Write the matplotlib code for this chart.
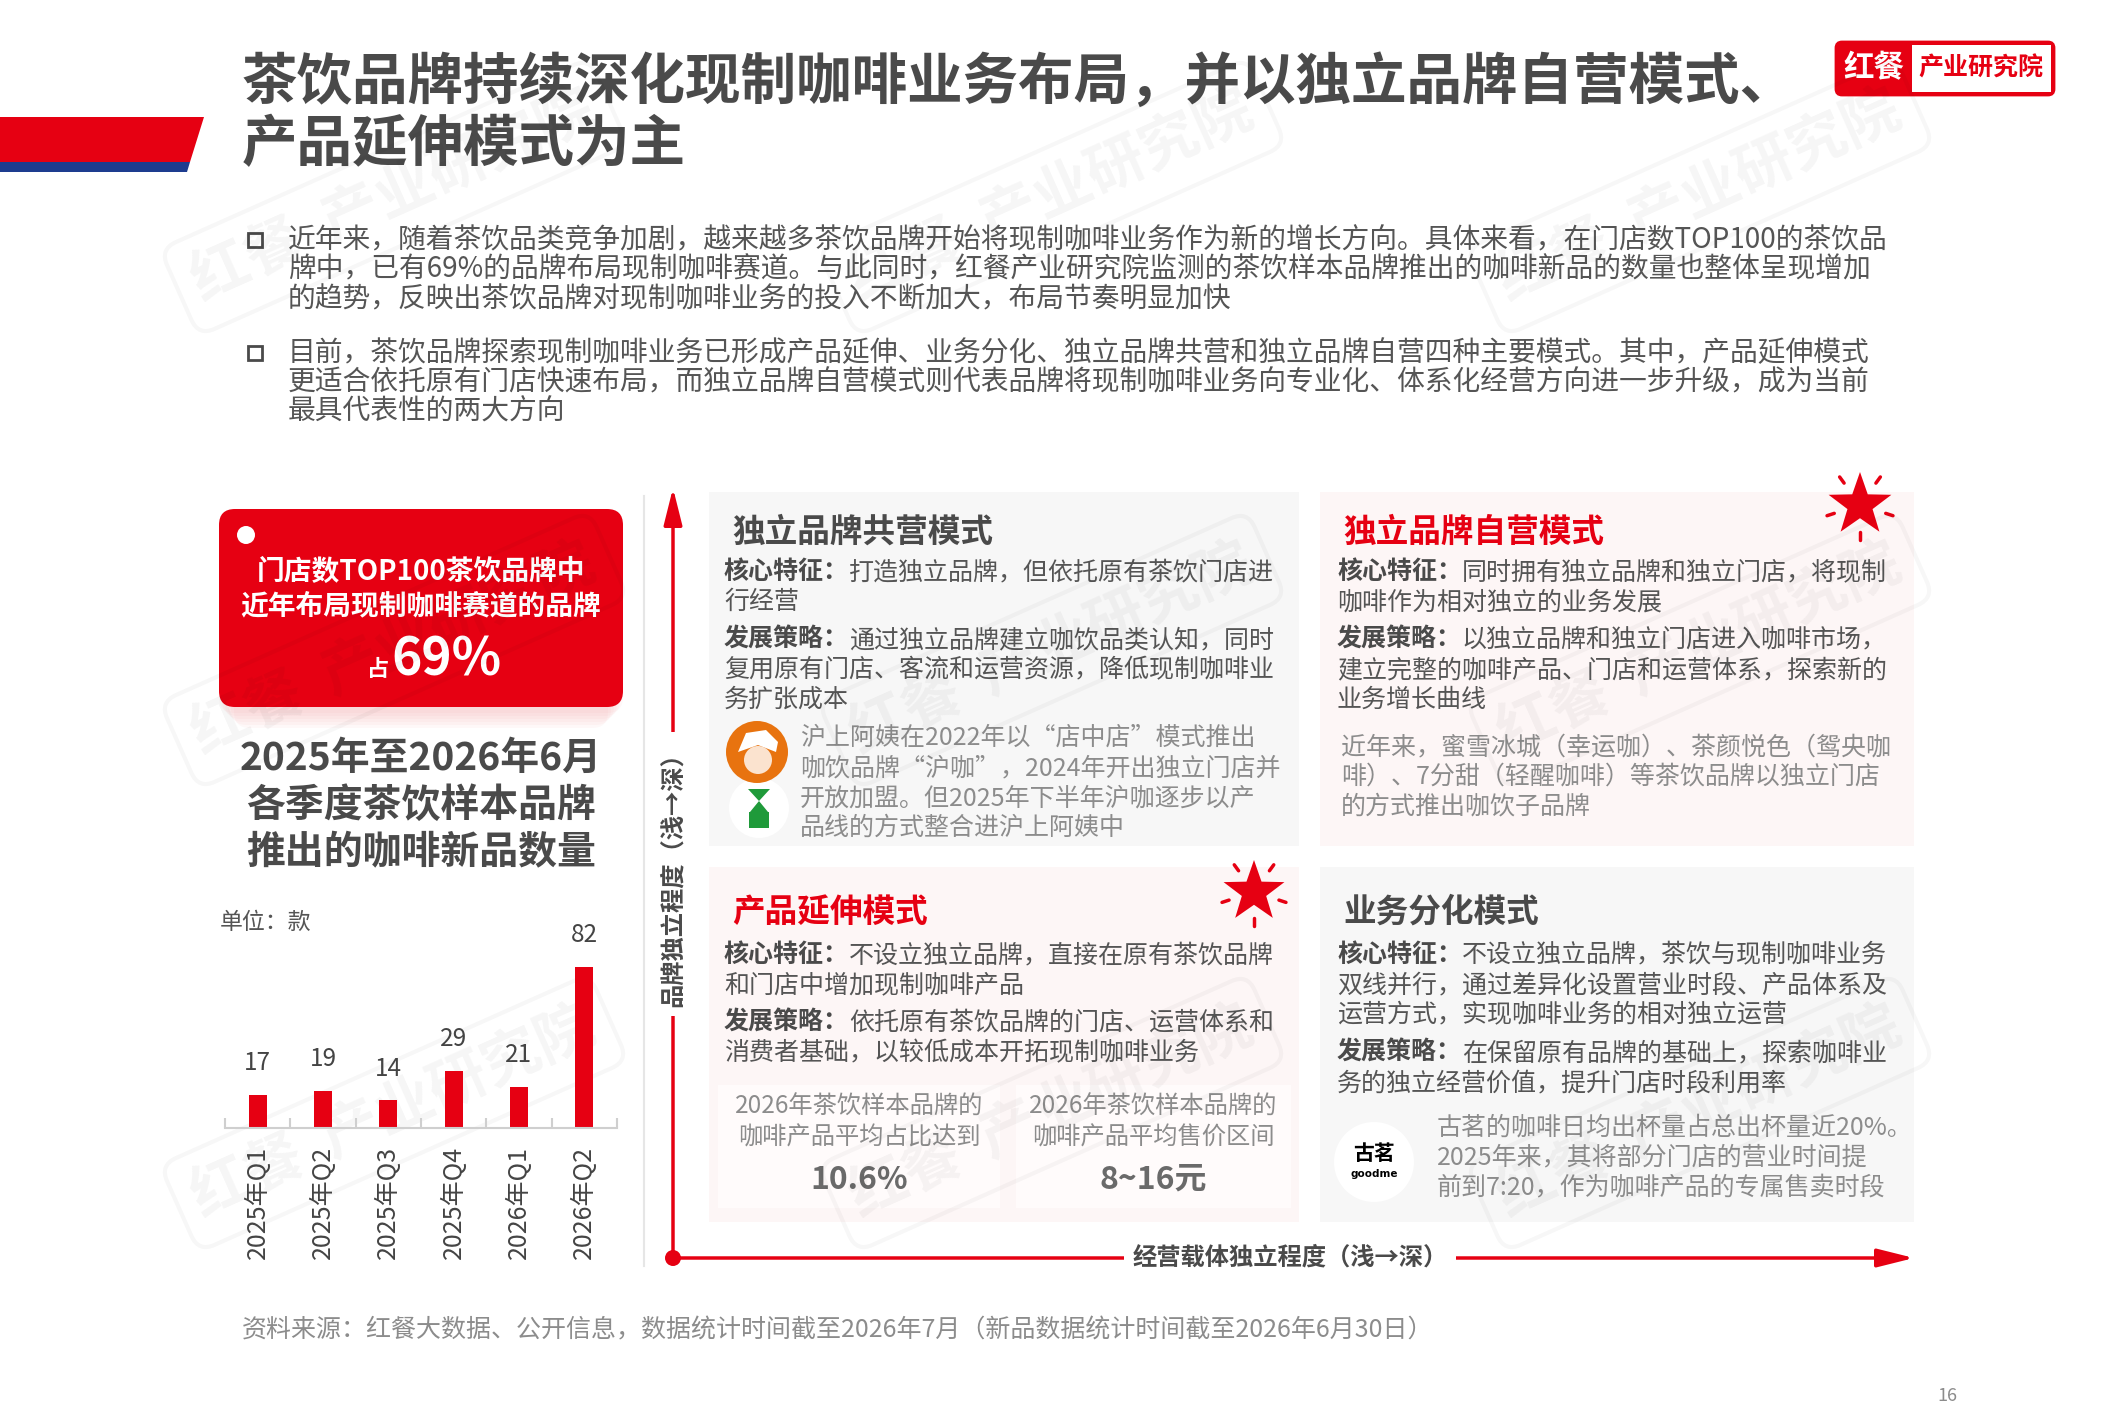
import numpy as np
import matplotlib.pyplot as plt
from matplotlib.patches import FancyBboxPatch, Polygon, Circle, Rectangle

plt.rcParams['font.family'] = ['Noto Sans CJK SC', 'DejaVu Sans']

W, H = 2126, 1418
RED = '#e60012'
BLUE = '#1d3c8f'
DARK = '#4a4a4a'
BODY = '#555555'
NOTE = '#8c8c8c'

# ---- data ----
quarters = ['2025年Q1', '2025年Q2', '2025年Q3', '2025年Q4', '2026年Q1', '2026年Q2']
new_items = [17, 19, 14, 29, 21, 82]
top100_share = '69%'
avg_coffee_share = '10.6%'
avg_price_range = '8~16元'

title_lines = ['茶饮品牌持续深化现制咖啡业务布局，并以独立品牌自营模式、',
               '产品延伸模式为主']
bullet1 = ['近年来，随着茶饮品类竞争加剧，越来越多茶饮品牌开始将现制咖啡业务作为新的增长方向。具体来看，在门店数TOP100的茶饮品',
           '牌中，已有69%的品牌布局现制咖啡赛道。与此同时，红餐产业研究院监测的茶饮样本品牌推出的咖啡新品的数量也整体呈现增加',
           '的趋势，反映出茶饮品牌对现制咖啡业务的投入不断加大，布局节奏明显加快']
bullet2 = ['目前，茶饮品牌探索现制咖啡业务已形成产品延伸、业务分化、独立品牌共营和独立品牌自营四种主要模式。其中，产品延伸模式',
           '更适合依托原有门店快速布局，而独立品牌自营模式则代表品牌将现制咖啡业务向专业化、体系化经营方向进一步升级，成为当前',
           '最具代表性的两大方向']
chart_title = ['2025年至2026年6月', '各季度茶饮样本品牌', '推出的咖啡新品数量']

tl_title = '独立品牌共营模式'
tl_core = ['打造独立品牌，但依托原有茶饮门店进', '行经营']
tl_strategy = ['通过独立品牌建立咖饮品类认知，同时', '复用原有门店、客流和运营资源，降低现制咖啡业', '务扩张成本']
tl_note = ['沪上阿姨在2022年以“店中店”模式推出', '咖饮品牌“沪咖”，2024年开出独立门店并',
           '开放加盟。但2025年下半年沪咖逐步以产', '品线的方式整合进沪上阿姨中']

tr_title = '独立品牌自营模式'
tr_core = ['同时拥有独立品牌和独立门店，将现制', '咖啡作为相对独立的业务发展']
tr_strategy = ['以独立品牌和独立门店进入咖啡市场，', '建立完整的咖啡产品、门店和运营体系，探索新的', '业务增长曲线']
tr_note = ['近年来，蜜雪冰城（幸运咖）、茶颜悦色（鸳央咖', '啡）、7分甜（轻醒咖啡）等茶饮品牌以独立门店',
           '的方式推出咖饮子品牌']

bl_title = '产品延伸模式'
bl_core = ['不设立独立品牌，直接在原有茶饮品牌', '和门店中增加现制咖啡产品']
bl_strategy = ['依托原有茶饮品牌的门店、运营体系和', '消费者基础，以较低成本开拓现制咖啡业务']
bl_stat_labels = [['2026年茶饮样本品牌的', '咖啡产品平均占比达到'], ['2026年茶饮样本品牌的', '咖啡产品平均售价区间']]

br_title = '业务分化模式'
br_core = ['不设立独立品牌，茶饮与现制咖啡业务', '双线并行，通过差异化设置营业时段、产品体系及', '运营方式，实现咖啡业务的相对独立运营']
br_strategy = ['在保留原有品牌的基础上，探索咖啡业', '务的独立经营价值，提升门店时段利用率']
br_note = ['古茗的咖啡日均出杯量占总出杯量近20%。', '2025年来，其将部分门店的营业时间提', '前到7:20，作为咖啡产品的专属售卖时段']

source = '资料来源：红餐大数据、公开信息，数据统计时间截至2026年7月（新品数据统计时间截至2026年6月30日）'

# ---- canvas ----
fig = plt.figure(figsize=(W / 100, H / 100), dpi=100)
bg = fig.add_axes([0, 0, 1, 1])
bg.set_xlim(0, W)
bg.set_ylim(H, 0)
bg.axis('off')

# header stripe + logo
bg.add_patch(Polygon([(0, 117), (204, 117), (190, 162), (0, 162)], color=RED, lw=0))
bg.add_patch(Polygon([(0, 162), (190, 162), (187, 172), (0, 172)], color=BLUE, lw=0))
bg.add_patch(FancyBboxPatch((1836, 42), 218, 53, boxstyle='round,pad=0,rounding_size=6',
                            fc=RED, ec=RED, lw=2))
bg.add_patch(Rectangle((1912, 45), 139, 47, fc='white', lw=0))
bg.text(1874, 68, '红餐', fontsize=22, weight='bold', color='white', ha='center', va='center')
bg.text(1981, 68, '产业研究院', fontsize=18, weight='bold', color=RED, ha='center', va='center')

for i, line in enumerate(title_lines):
    bg.text(242, 83 + 62 * i, line, fontsize=40, weight='heavy', color=DARK, va='center')

# bullets
for paragraph, y0 in [(bullet1, 240), (bullet2, 353)]:
    bg.add_patch(Rectangle((248, y0 - 7), 14, 14, fc='white', ec=DARK, lw=2))
    for j, line in enumerate(paragraph):
        bg.text(288, y0 + 29.5 * j, line, fontsize=20, color=BODY, va='center')

# ---- left panel ----
for k in range(6):
    bg.add_patch(FancyBboxPatch((219 + 3 * k, 515 + 3 * k), 404 - 6 * k, 198,
                                boxstyle='round,pad=0,rounding_size=16',
                                fc='#f19ca1', ec='none', alpha=0.07))
bg.add_patch(FancyBboxPatch((219, 509), 404, 198, boxstyle='round,pad=0,rounding_size=16',
                            fc=RED, ec='none'))
bg.add_patch(Circle((246, 535), 9, fc='white', ec='none'))
bg.text(421, 572, '门店数TOP100茶饮品牌中', fontsize=20, weight='bold', color='white', ha='center', va='center')
bg.text(421, 606, '近年布局现制咖啡赛道的品牌', fontsize=20, weight='bold', color='white', ha='center', va='center')
bg.text(389, 676, '占', fontsize=16, weight='bold', color='white', ha='right', va='baseline')
bg.text(391, 676, top100_share, fontsize=37, weight='bold', color='white', ha='left', va='baseline')

for i, line in enumerate(chart_title):
    bg.text(421, 758 + 47.5 * i, line, fontsize=28, weight='heavy', color=DARK, ha='center', va='center')
bg.text(220, 922, '单位：款', fontsize=16.5, color=BODY, va='center')

bg.plot([644, 644], [496, 1266], color='#e6e6e6', lw=1.5)

# bar chart
ax = fig.add_axes([225 / W, (H - 1128) / H, 392 / W, 228 / H])
ax.bar(range(len(quarters)), new_items, width=0.28, color=RED)
ax.set_xlim(-0.5, len(quarters) - 0.5)
ax.set_ylim(0, 116)
ax.patch.set_alpha(0)
for s in ['top', 'left', 'right']:
    ax.spines[s].set_visible(False)
ax.spines['bottom'].set_color('#cfcfcf')
ax.spines['bottom'].set_linewidth(1.5)
ax.set_yticks([])
ax.set_xticks(range(len(quarters)))
ax.set_xticklabels(quarters, rotation=90, fontsize=18, color='#444444')
ax.set_xticks(np.arange(-0.5, len(quarters), 1), minor=True)
ax.tick_params(axis='x', which='major', length=0, pad=13)
ax.tick_params(axis='x', which='minor', direction='in', length=7, width=1.5, color='#cfcfcf')
for i, v in enumerate(new_items):
    ax.annotate(str(v), (i, v), xytext=(0, 23), textcoords='offset points',
                ha='center', va='center', fontsize=17.5, color='#444444')

# ---- axes of the matrix ----
arrow = dict(arrowstyle='-|>,head_length=0.8,head_width=0.2', color=RED, lw=2.5,
             shrinkA=0, shrinkB=0, mutation_scale=28)
bg.annotate('', xy=(673, 488), xytext=(673, 1258), arrowprops=arrow)
bg.annotate('', xy=(1914, 1258), xytext=(673, 1258), arrowprops=arrow)
bg.add_patch(Circle((673, 1258), 8, fc=RED, ec='none', zorder=4))
bg.text(673, 874, '品牌独立程度（浅→深）', rotation=90, fontsize=17.5, weight='bold', color=DARK,
        ha='center', va='center', bbox=dict(fc='white', ec='none', pad=6), zorder=5)
bg.text(1290, 1258, '经营载体独立程度（浅→深）', fontsize=17.5, weight='bold', color=DARK,
        ha='center', va='center', bbox=dict(fc='white', ec='none', pad=6), zorder=5)


def panel(x, y, w, h, color):
    bg.add_patch(Rectangle((x, y), w, h, fc=color, ec='none', zorder=1))


def block(x, y, label, lines, step=30):
    bg.text(x, y, label, fontsize=18, weight='bold', color=DARK, va='center', zorder=3)
    off = len(label) * 18 * 100 / 72
    for j, line in enumerate(lines):
        bg.text(x + (off if j == 0 else 0), y + step * j, line, fontsize=18, color=BODY,
                va='center', zorder=3)


def note(x, y, lines, step=30, size=18):
    for j, line in enumerate(lines):
        bg.text(x, y + step * j, line, fontsize=size, color=NOTE, va='center', zorder=3)


def star(cx, cy, r):
    ang = np.deg2rad(90 + 36 * np.arange(10))
    rad = np.where(np.arange(10) % 2 == 0, r, r * 0.40)
    pts = np.c_[cx + rad * np.cos(ang), cy - rad * np.sin(ang)]
    bg.add_patch(Polygon(pts, closed=True, fc=RED, ec='none', zorder=3))
    for a in np.deg2rad(126 + 72 * np.arange(5)):
        bg.plot([cx + 0.82 * r * np.cos(a), cx + 1.05 * r * np.cos(a)],
                [cy - 0.82 * r * np.sin(a), cy - 1.05 * r * np.sin(a)],
                color=RED, lw=2.5, solid_capstyle='round', zorder=3)


# top-left
panel(709, 492, 590, 354, '#f7f7f7')
bg.text(732, 532, tl_title, fontsize=23.5, weight='bold', color=DARK, va='center', zorder=3)
block(724, 572, '核心特征：', tl_core)
block(724, 640, '发展策略：', tl_strategy)
note(800, 738, tl_note)
bg.add_patch(Circle((759, 808), 30, fc='white', ec='none', zorder=2))
bg.add_patch(Polygon([(748, 789), (770, 789), (759, 801), (768, 812), (750, 812), (759, 801)],
                     fc='#1f9a3a', ec='none', zorder=3))
bg.add_patch(Rectangle((749, 812), 20, 16, fc='#1f9a3a', ec='none', zorder=3))
bg.add_patch(Circle((757, 752), 31, fc='#e8730f', ec='none', zorder=3))
bg.add_patch(Circle((758, 760), 14, fc='#fbe3cf', ec='none', zorder=4))
bg.add_patch(Polygon([(738, 752), (746, 733), (766, 730), (778, 742), (776, 752), (758, 745)],
                     fc='white', ec='none', zorder=4))

# top-right
panel(1320, 492, 594, 354, '#fdf6f6')
bg.text(1343, 532, tr_title, fontsize=23.5, weight='bold', color=RED, va='center', zorder=3)
block(1337, 572, '核心特征：', tr_core)
block(1337, 640, '发展策略：', tr_strategy)
note(1341, 747, tr_note, step=29.5)
star(1860, 505, 33)

# bottom-left
panel(709, 867, 590, 355, '#fdf6f6')
bg.text(732, 912, bl_title, fontsize=23.5, weight='bold', color=RED, va='center', zorder=3)
block(724, 955, '核心特征：', bl_core)
block(724, 1023, '发展策略：', bl_strategy)
star(1254, 892, 32)
for (bx, bw, cx), labels, value in zip([(718, 282, 859), (1016, 275, 1153)], bl_stat_labels,
                                       [avg_coffee_share, avg_price_range]):
    bg.add_patch(Rectangle((bx, 1085), bw, 123, fc='#fffbfb', ec='none', zorder=2))
    for j, line in enumerate(labels):
        bg.text(cx, 1107 + 30 * j, line, fontsize=17.5, color=NOTE, ha='center', va='center', zorder=3)
    bg.text(cx, 1180, value, fontsize=23, weight='bold', color='#6a6a6a', ha='center', va='center', zorder=3)

# bottom-right
panel(1320, 867, 594, 355, '#f7f7f7')
bg.text(1343, 912, br_title, fontsize=23.5, weight='bold', color=DARK, va='center', zorder=3)
block(1337, 955, '核心特征：', br_core)
block(1337, 1053, '发展策略：', br_strategy)
bg.add_patch(Circle((1374, 1162), 40, fc='white', ec='none', zorder=2))
bg.text(1374, 1153, '古茗', fontsize=15, weight='bold', color='black', ha='center', va='center', zorder=3)
bg.text(1374, 1174, 'goodme', fontsize=7.5, weight='bold', color='black', ha='center', va='center',
        family='DejaVu Sans', zorder=3)
note(1437, 1127, br_note)

# watermarks
for wx in [394, 1052, 1700]:
    for wy in [197, 650, 1113]:
        bg.text(wx, wy, '红餐  产业研究院', rotation=24, fontsize=42, weight='bold', color='black',
                alpha=0.04, ha='center', va='center', zorder=10,
                bbox=dict(boxstyle='round,pad=0.3', fc='none', ec=(0, 0, 0, 0.03), lw=3))

# footer
bg.text(242, 1330, source, fontsize=18, color=NOTE, va='center')
bg.text(1947, 1396, '16', fontsize=13, color=NOTE, ha='center', va='center')

fig.savefig('out.png', dpi=100)
